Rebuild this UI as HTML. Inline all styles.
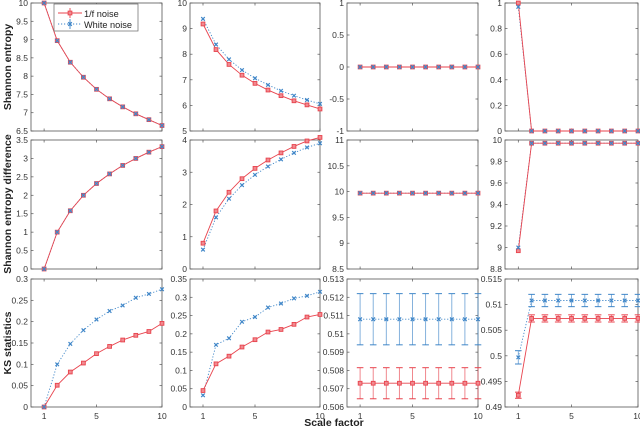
<!DOCTYPE html>
<html><head><meta charset="utf-8">
<style>
html,body{margin:0;padding:0;background:#fff;}
svg{display:block;font-family:"Liberation Sans",sans-serif;}
</style></head>
<body>
<svg id="fig" width="640" height="430" viewBox="0 0 640 430"></svg>
<script>
const xCats = [1,2,3,4,5,6,7,8,9,10];
const xTicks = [1,5,10];
const r1c1Red = [10,8.97,8.38,7.97,7.64,7.38,7.16,6.97,6.81,6.65];
const r1c1Blue = [10,8.97,8.38,7.97,7.64,7.38,7.16,6.97,6.81,6.65];
const r1c2Red = [9.18,8.18,7.6,7.18,6.86,6.6,6.38,6.18,6.02,5.86];
const r1c2Blue = [9.38,8.38,7.8,7.38,7.06,6.8,6.57,6.38,6.21,6.06];
const r1c3Red = [0,0,0,0,0,0,0,0,0,0];
const r1c3Blue = [0,0,0,0,0,0,0,0,0,0];
const r1c4Red = [1,0,0,0,0,0,0,0,0,0];
const r1c4Blue = [0.97,0,0,0,0,0,0,0,0,0];
const r2c1Red = [0,1,1.58,2,2.32,2.58,2.81,3,3.17,3.32];
const r2c1Blue = [0,1,1.58,2,2.32,2.58,2.81,3,3.17,3.32];
const r2c2Red = [0.8,1.8,2.38,2.8,3.12,3.38,3.6,3.8,3.97,4.08];
const r2c2Blue = [0.6,1.6,2.18,2.6,2.92,3.18,3.4,3.6,3.77,3.9];
const r2c3Red = [9.97,9.97,9.97,9.97,9.97,9.97,9.97,9.97,9.97,9.97];
const r2c3Blue = [9.97,9.97,9.97,9.97,9.97,9.97,9.97,9.97,9.97,9.97];
const r2c4Red = [8.97,9.97,9.97,9.97,9.97,9.97,9.97,9.97,9.97,9.97];
const r2c4Blue = [9.0,9.97,9.97,9.97,9.97,9.97,9.97,9.97,9.97,9.97];
const r3c1Red = [0,0.051,0.082,0.103,0.125,0.142,0.157,0.168,0.177,0.196];
const r3c1Blue = [0,0.1,0.148,0.18,0.205,0.225,0.238,0.256,0.265,0.276];
const r3c2Red = [0.045,0.118,0.139,0.164,0.184,0.205,0.212,0.226,0.246,0.253];
const r3c2Blue = [0.032,0.17,0.188,0.233,0.246,0.272,0.283,0.297,0.304,0.315];
const r3c3Red = [0.5073,0.5073,0.5073,0.5073,0.5073,0.5073,0.5073,0.5073,0.5073,0.5073];
const r3c3RedErr = [0.00085,0.00085,0.00085,0.00085,0.00085,0.00085,0.00085,0.00085,0.00085,0.00085];
const r3c3Blue = [0.5108,0.5108,0.5108,0.5108,0.5108,0.5108,0.5108,0.5108,0.5108,0.5108];
const r3c3BlueErr = [0.0014,0.0014,0.0014,0.0014,0.0014,0.0014,0.0014,0.0014,0.0014,0.0014];
const r3c4Red = [0.4923,0.5073,0.5073,0.5073,0.5073,0.5073,0.5073,0.5073,0.5073,0.5073];
const r3c4RedErr = [0.0006,0.0007,0.0007,0.0007,0.0007,0.0007,0.0007,0.0007,0.0007,0.0007];
const r3c4Blue = [0.4997,0.5108,0.5108,0.5108,0.5108,0.5108,0.5108,0.5108,0.5108,0.5108];
const r3c4BlueErr = [0.0013,0.0012,0.0012,0.0012,0.0012,0.0012,0.0012,0.0012,0.0012,0.0012];
const yTicksR1 = [["6.5","7","7.5","8","8.5","9","9.5","10"],["5","6","7","8","9","10"],["-1","-0.5","0","0.5","1"],["0","0.2","0.4","0.6","0.8","1"]];
const yTicksR2 = [["0","0.5","1","1.5","2","2.5","3","3.5"],["0","1","2","3","4"],["8.5","9","9.5","10","10.5","11"],["8.8","9","9.2","9.4","9.6","9.8","10"]];
const yTicksR3 = [["0","0.05","0.1","0.15","0.2","0.25","0.3"],["0","0.05","0.1","0.15","0.2","0.25","0.3","0.35"],["0.506","0.507","0.508","0.509","0.51","0.511","0.512","0.513"],["0.49","0.495","0.5","0.505","0.51","0.515"]];
const yLims = [[[6.5,10],[5,10],[-1,1],[0,1]],[[0,3.5],[0,4],[8.5,11],[8.8,10]],[[0,0.3],[0,0.35],[0.506,0.513],[0.49,0.515]]];

const NS="http://www.w3.org/2000/svg";
const svg=document.getElementById('fig');
const colL=[31,190,347,505], colR=[162,320,478,638];
const rowT=[3,140,279], rowB=[131,269,407];
const RED="#e8434d", BLUE="#3f86c8";
function mk(tag,attrs,parent){const e=document.createElementNS(NS,tag);for(const k in attrs)e.setAttribute(k,attrs[k]);(parent||svg).appendChild(e);return e;}

const series=[[[r1c1Red,r1c1Blue],[r1c2Red,r1c2Blue],[r1c3Red,r1c3Blue],[r1c4Red,r1c4Blue]],
[[r2c1Red,r2c1Blue],[r2c2Red,r2c2Blue],[r2c3Red,r2c3Blue],[r2c4Red,r2c4Blue]],
[[r3c1Red,r3c1Blue],[r3c2Red,r3c2Blue],[r3c3Red,r3c3Blue,r3c3RedErr,r3c3BlueErr],[r3c4Red,r3c4Blue,r3c4RedErr,r3c4BlueErr]]];
const yTickSets=[yTicksR1,yTicksR2,yTicksR3];

for(let r=0;r<3;r++)for(let c=0;c<4;c++){
  const g=mk('g',{});
  
  
  const L=colL[c],R=colR[c],T=rowT[r],B=rowB[r];
  const [y0,y1]=yLims[r][c];
  const xs=v=>L+(v-0)/(10-0)*(R-L);
  const ys=v=>B-(v-y0)/(y1-y0)*(B-T);
  const fr=mk('rect',{x:L,y:T,width:R-L,height:B-T,fill:'#fff',stroke:'#555','stroke-width':0.8},g);
  
  
  xTicks.forEach(t=>{const x=xs(t);
    mk('line',{x1:x,x2:x,y1:B,y2:B-2.5,stroke:'#555','stroke-width':0.7},g);
    mk('line',{x1:x,x2:x,y1:T,y2:T+2.5,stroke:'#555','stroke-width':0.7},g);
    if(r===2){const tx=mk('text',{x:x,y:B+12,'font-size':8.5,fill:'#333','text-anchor':'middle'},g);tx.textContent=t;
      
      }
  });
  yTickSets[r][c].forEach(s=>{const v=parseFloat(s),y=ys(v);
    mk('line',{x1:L,x2:L+2.5,y1:y,y2:y,stroke:'#555','stroke-width':0.7},g);
    mk('line',{x1:R,x2:R-2.5,y1:y,y2:y,stroke:'#555','stroke-width':0.7},g);
    const tx=mk('text',{x:L-3,y:y+3,'font-size':8.5,fill:'#333','text-anchor':'end'},g);tx.textContent=s;
    
    
  });
  const [red,blue,redErr,blueErr]=series[r][c];
  const bp=mk('polyline',{points:xCats.map((x,i)=>xs(x)+','+ys(blue[i])).join(' '),fill:'none',stroke:BLUE,'stroke-width':0.9,'stroke-dasharray':'1.2,1.8'},g);
  
  
  const rp=mk('polyline',{points:xCats.map((x,i)=>xs(x)+','+ys(red[i])).join(' '),fill:'none',stroke:RED,'stroke-width':0.9},g);
  
  
  function errbar(x,v,e,col){
    const xx=xs(x),ya=ys(v+e),yb=ys(v-e);
    mk('line',{x1:xx,x2:xx,y1:ya,y2:yb,stroke:col,'stroke-width':0.9,opacity:0.7},g);
    mk('line',{x1:xx-3.3,x2:xx+3.3,y1:ya,y2:ya,stroke:col,'stroke-width':1},g);
    mk('line',{x1:xx-3.3,x2:xx+3.3,y1:yb,y2:yb,stroke:col,'stroke-width':1},g);
  }
  xCats.forEach((x,i)=>{
    if(blueErr)errbar(x,blue[i],blueErr[i],BLUE);
    if(redErr)errbar(x,red[i],redErr[i],RED);
    const px=xs(x),ry=ys(red[i]),by=ys(blue[i]);
    const rm=mk('rect',{x:px-1.9,y:ry-1.9,width:3.8,height:3.8,fill:'#f08a90',stroke:RED,'stroke-width':0.9},g);
    
    
    const bm=mk('path',{d:`M${px-1.8},${by-1.8}L${px+1.8},${by+1.8}M${px-1.8},${by+1.8}L${px+1.8},${by-1.8}`,stroke:BLUE,'stroke-width':1.2},g);
    
    
  });
}
[["Shannon entropy",67],["Shannon entropy difference",204],["KS statistics",343]].forEach(([t,y])=>{
  const tx=mk('text',{x:11,y:y,'font-size':10.5,'font-weight':'bold',fill:'#222','text-anchor':'middle',transform:`rotate(-90 11 ${y})`});
  tx.textContent=t;
  
  
});
const xt=mk('text',{x:334,y:426,'font-size':10.5,'font-weight':'bold',fill:'#222','text-anchor':'middle'});
xt.textContent="Scale factor";


const lg=mk('g',{});


mk('rect',{x:54,y:4,width:84,height:27,fill:'#fff',stroke:'#666','stroke-width':0.7},lg);
mk('line',{x1:58,x2:82,y1:13,y2:13,stroke:RED,'stroke-width':0.9},lg);
mk('line',{x1:70,x2:70,y1:8,y2:18,stroke:RED,'stroke-width':0.9},lg);
mk('rect',{x:68.1,y:11.1,width:3.8,height:3.8,fill:'#f08a90',stroke:RED,'stroke-width':0.9},lg);
mk('line',{x1:58,x2:82,y1:24,y2:24,stroke:BLUE,'stroke-width':0.9,'stroke-dasharray':'1.2,1.8'},lg);
mk('line',{x1:70,x2:70,y1:19,y2:29,stroke:BLUE,'stroke-width':0.9},lg);
mk('path',{d:'M68.2,22.2L71.8,25.8M68.2,25.8L71.8,22.2',stroke:BLUE,'stroke-width':1.2},lg);
const l1=mk('text',{x:84,y:17,'font-size':9.2,fill:'#222'},lg);l1.textContent="1/f noise";


const l2=mk('text',{x:84,y:28,'font-size':9.2,fill:'#222'},lg);l2.textContent="White noise";


</script>
</body></html>
